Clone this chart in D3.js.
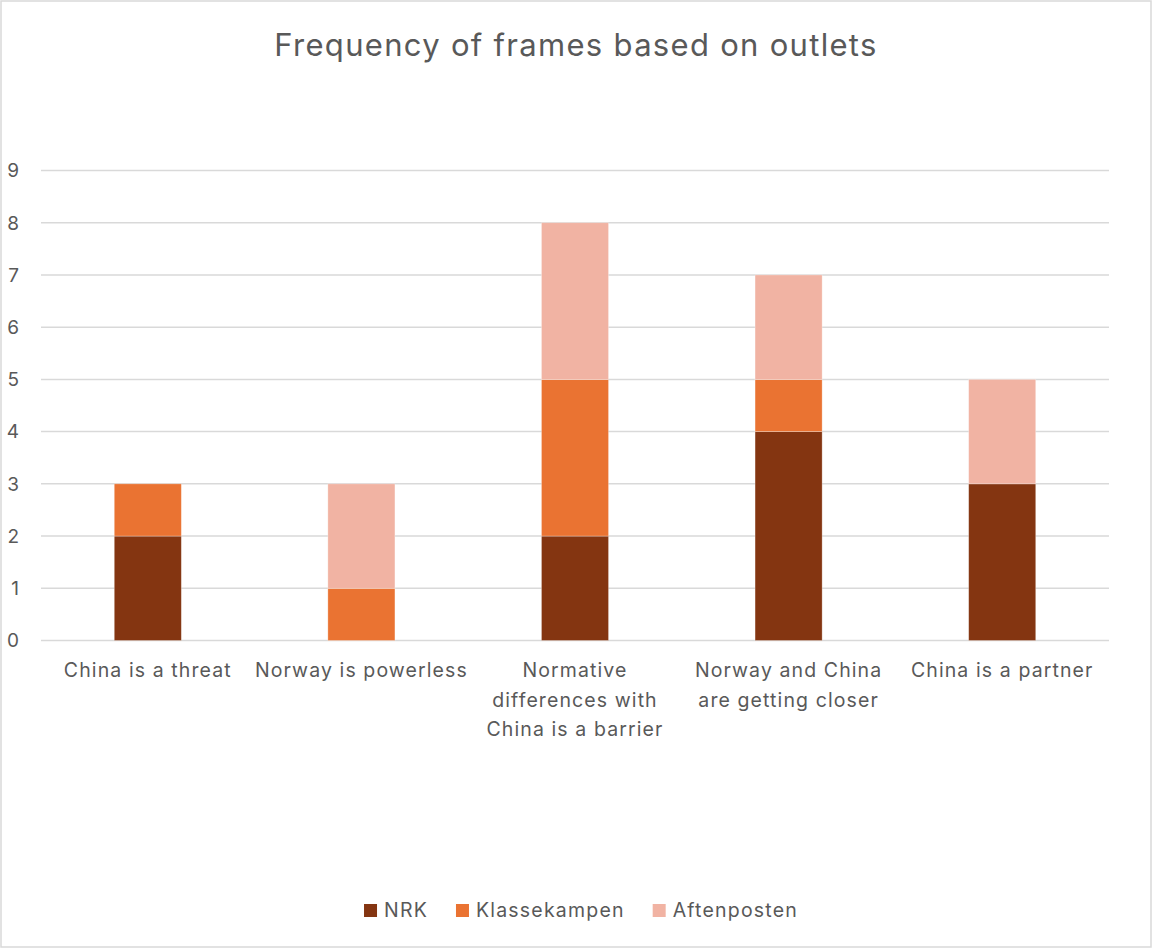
<!DOCTYPE html>
<html>
<head>
<meta charset="utf-8">
<script src="https://cdn.jsdelivr.net/npm/d3@7.9.0/dist/d3.min.js"></script>
<style>
  html, body { margin: 0; padding: 0; background: #fff; }
  svg { display: block; font-family: Inter, "Open Sans", sans-serif; }
</style>
</head>
<body>
<svg width="1152" height="948"></svg>
<script>
// chart data
const categories = [
  'China is a threat',
  'Norway is powerless',
  'Normative differences with China is a barrier',
  'Norway and China are getting closer',
  'China is a partner'
];
// wrapped tick labels as Excel shows them
const categoryLines = [
  ['China is a threat'],
  ['Norway is powerless'],
  ['Normative', 'differences with', 'China is a barrier'],
  ['Norway and China', 'are getting closer'],
  ['China is a partner']
];
const seriesNames = ['NRK', 'Klassekampen', 'Aftenposten'];
const nrk = [2, 0, 2, 4, 3];
const klassekampen = [1, 1, 3, 1, 0];
const aftenposten = [0, 2, 3, 2, 2];
const yTicks = [0, 1, 2, 3, 4, 5, 6, 7, 8, 9];

const colors = ['#843511', '#ea7332', '#f1b3a3'];
const textColor = '#595959';
const gridColor = '#d9d9d9';

const svg = d3.select('svg');
const W = 1152, H = 948;

// outer frame
svg.append('rect')
  .attr('x', 1).attr('y', 1)
  .attr('width', W - 2).attr('height', H - 2)
  .attr('fill', '#fff')
  .attr('stroke', gridColor).attr('stroke-width', 1.5);

// title
svg.append('text')
  .attr('x', W / 2).attr('y', 56)
  .attr('text-anchor', 'middle')
  .attr('fill', textColor)
  .style('font-size', '31px')
  .style('letter-spacing', '1.3px')
  .text('Frequency of frames based on outlets');

const x = d3.scaleBand()
  .domain(categories)
  .range([41, 1109])
  .paddingInner(0.686)
  .paddingOuter(0.343);

const y = d3.scaleLinear()
  .domain([0, 9])
  .range([640.5, 170.5]);

// gridlines
svg.append('g')
  .selectAll('line')
  .data(yTicks)
  .join('line')
  .attr('x1', 41).attr('x2', 1109)
  .attr('y1', d => y(d)).attr('y2', d => y(d))
  .attr('stroke', gridColor).attr('stroke-width', 1.5);

// y tick labels
svg.append('g')
  .selectAll('text')
  .data(yTicks)
  .join('text')
  .attr('x', 19)
  .attr('y', d => y(d))
  .attr('dy', '0.36em')
  .attr('text-anchor', 'end')
  .attr('fill', textColor)
  .style('font-size', '19px')
  .text(d => d);

// stacked bars
const table = categories.map((c, i) => ({
  category: c,
  NRK: nrk[i],
  Klassekampen: klassekampen[i],
  Aftenposten: aftenposten[i]
}));
const stacked = d3.stack().keys(seriesNames)(table);

svg.append('g')
  .selectAll('g')
  .data(stacked)
  .join('g')
  .attr('fill', (d, i) => colors[i])
  .selectAll('rect')
  .data(d => d.filter(s => s[1] > s[0]))
  .join('rect')
  .attr('x', d => x(d.data.category))
  .attr('width', x.bandwidth())
  .attr('y', d => y(d[1]))
  .attr('height', d => y(d[0]) - y(d[1]))
  .attr('stroke', '#fff').attr('stroke-opacity', 0.4).attr('stroke-width', 0.75);

// category labels
const labels = svg.append('g')
  .selectAll('text')
  .data(categories)
  .join('text')
  .attr('x', d => x(d) + x.bandwidth() / 2)
  .attr('y', 677)
  .attr('text-anchor', 'middle')
  .attr('fill', textColor)
  .style('font-size', '19.5px')
  .style('letter-spacing', '1.1px');

labels.selectAll('tspan')
  .data((d, i) => categoryLines[i])
  .join('tspan')
  .attr('x', function () { return this.parentNode.getAttribute('x'); })
  .attr('dy', (d, i) => i === 0 ? 0 : 29.5)
  .text(d => d);

// legend
const legend = svg.append('g');
const items = legend.selectAll('g')
  .data(seriesNames)
  .join('g');
items.append('rect')
  .attr('width', 13).attr('height', 13)
  .attr('y', 904)
  .attr('fill', (d, i) => colors[i]);
items.append('text')
  .attr('x', 20)
  .attr('y', 917)
  .attr('fill', textColor)
  .style('font-size', '19.5px')
  .style('letter-spacing', '1.2px')
  .text(d => d);

let cx = 0;
const offsets = [];
items.each(function () {
  const w = this.querySelector('text').getComputedTextLength();
  offsets.push(cx);
  cx += 20 + w + 28;
});
const total = cx - 28;
const startX = W / 2 - total / 2 + 5;
items.attr('transform', (d, i) => `translate(${startX + offsets[i]},0)`);
</script>
</body>
</html>
